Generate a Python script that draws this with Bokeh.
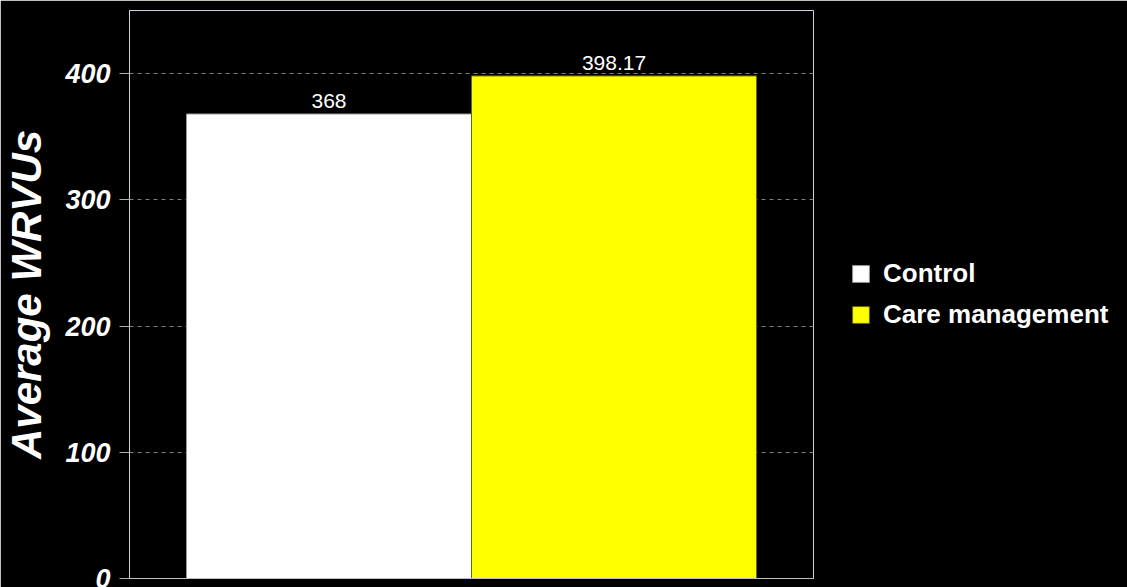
from bokeh.plotting import figure
from bokeh.models import ColumnDataSource, Range1d, Legend, LegendItem, LabelSet, FixedTicker, LinearAxis
from bokeh.core.properties import value
from bokeh.embed import file_html
from bokeh.resources import INLINE

categories = ["Control", "Care management"]
values = [368, 398.17]
value_labels = ["368", "398.17"]
colors = ["#ffffff", "#ffff00"]
edge_colors = ["#9a9a9a", "#6b6b00"]
y_ticks = [0, 100, 200, 300, 400]

xs = [i + 0.5 for i in range(len(categories))]
src = ColumnDataSource(dict(x=xs, top=values, lab=value_labels))

FONT = "Liberation Sans"

p = figure(frame_width=684, frame_height=568, output_backend="svg", toolbar_location=None,
           x_range=Range1d(-0.2, 2.2), y_range=Range1d(0, 450),
           background_fill_color="black", border_fill_color="black",
           min_border_left=128, min_border_right=0, min_border_top=10, min_border_bottom=9)

p.outline_line_color = "#c8d4e0"
p.outline_line_width = 1

renderers = []
for i in range(len(categories)):
    r = p.vbar(x=[xs[i]], top=[values[i]], width=1.0, bottom=0,
               fill_color=colors[i], line_color=edge_colors[i], line_width=1)
    renderers.append(r)

labels = LabelSet(x="x", y="top", text="lab", source=src, text_align="center",
                  y_offset=6, text_color="white", text_font_size="21px",
                  text_font=value(FONT))
p.add_layout(labels)

p.xaxis.visible = False
p.xgrid.visible = False

p.ygrid.grid_line_color = "#808080"
p.ygrid.grid_line_dash = "4 4"
p.ygrid.grid_line_width = 1
p.ygrid.ticker = FixedTicker(ticks=y_ticks[1:])

ax = p.yaxis[0]
ax.ticker = FixedTicker(ticks=y_ticks)
ax.axis_line_color = "#d0d0d0"
ax.major_tick_line_color = "#b0b0b0"
ax.major_tick_in = 0
ax.major_tick_out = 10
ax.minor_tick_line_color = None
ax.major_label_text_color = "white"
ax.major_label_text_font = FONT
ax.major_label_text_font_style = "bold italic"
ax.major_label_text_font_size = "27px"
ax.major_label_standoff = 9
ax.axis_label = "Average WRVUs"
ax.axis_label_text_color = "white"
ax.axis_label_text_font = FONT
ax.axis_label_text_font_style = "bold italic"
ax.axis_label_text_font_size = "42px"
ax.axis_label_standoff = 12

bx = LinearAxis(ticker=FixedTicker(ticks=[]), axis_line_color="#c0c0c0",
                major_label_text_font_size="0px", major_tick_line_color=None,
                minor_tick_line_color=None)
p.add_layout(bx, "below")

legend = Legend(items=[LegendItem(label=categories[i], renderers=[renderers[i]]) for i in range(len(categories))],
                location="center_left", orientation="vertical",
                label_text_color="white", label_text_font=FONT,
                label_text_font_style="bold", label_text_font_size="26px",
                glyph_width=21, glyph_height=21, label_height=21, spacing=10,
                label_standoff=12, padding=0, margin=37,
                border_line_color=None, background_fill_alpha=0)
p.add_layout(legend, "right")

open("out.html", "w").write(file_html(p, INLINE))
